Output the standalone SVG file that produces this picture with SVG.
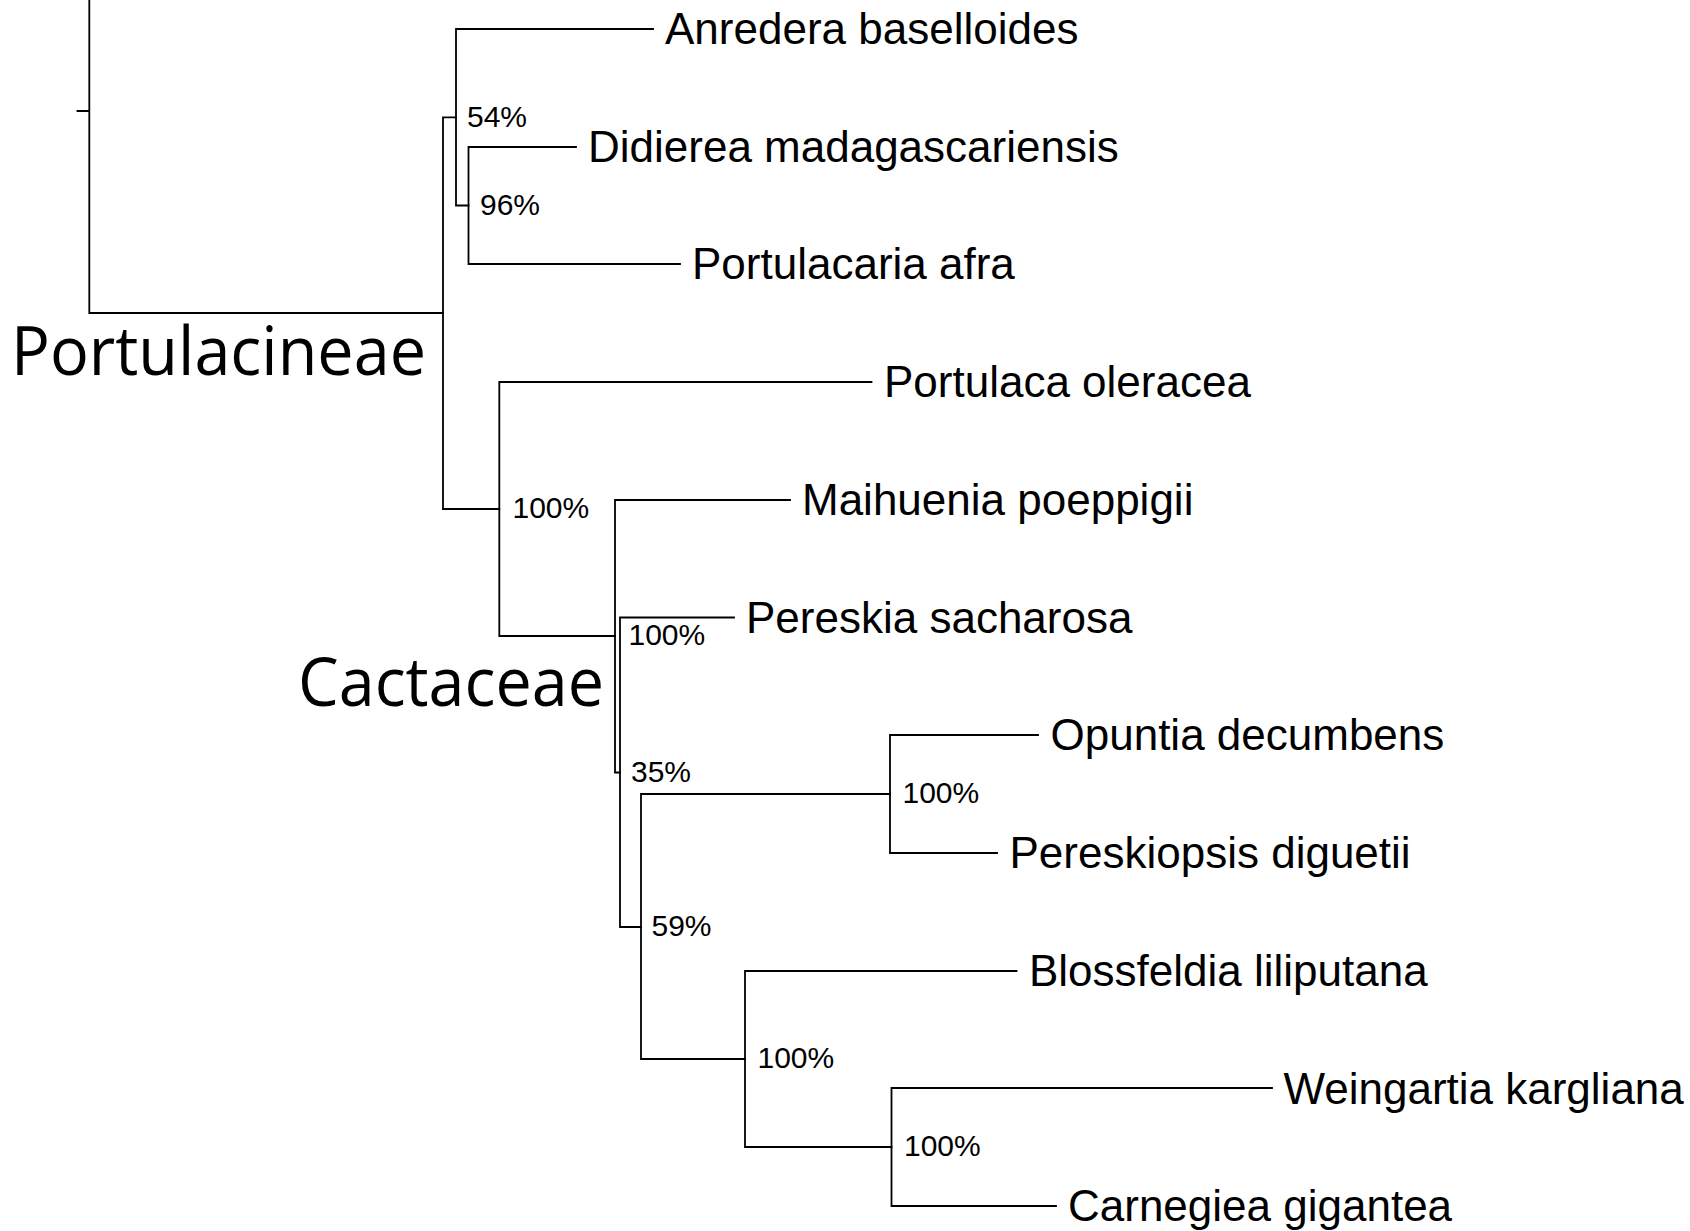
<svg xmlns="http://www.w3.org/2000/svg" width="1690" height="1231" viewBox="0 0 1690 1231">
<style>
.br{fill:none;stroke:#000;stroke-width:1.8;stroke-linecap:square}
.leaf{font-family:"Liberation Sans",Arial,sans-serif;font-size:44px;fill:#000}
.sup{font-family:"Liberation Sans",Arial,sans-serif;font-size:30px;fill:#000}
.clade{font-family:"Open Sans","Noto Sans",sans-serif;font-size:68px;fill:#000}
</style>
<rect width="1690" height="1231" fill="#fff"/>
<g id="connectors">
<path class="br" d="M77.5 111 H89.3 M89.3 0 V313 H443"/>
<path class="br" d="M456 117.3 H443 V509 H499.3"/>
<path class="br" d="M653 29 H456 V205.5 H468.5"/>
<path class="br" d="M576 147 H468.5 V264 H680"/>
<path class="br" d="M871.5 382 H499.3 V636 H615"/>
<path class="br" d="M790 500 H615 V772.5 H620"/>
<path class="br" d="M734 617.5 H620 V927 H641"/>
<path class="br" d="M890 794 H641 V1059 H745"/>
<path class="br" d="M1038 735 H890 V853 H997"/>
<path class="br" d="M1016.5 971 H745 V1147 H891.5"/>
<path class="br" d="M1272 1088 H891.5 V1206 H1056"/>
</g>
<g id="leaf-anredera"><text class="leaf" x="665" y="44">Anredera baselloides</text></g>
<g id="leaf-didierea"><text class="leaf" x="588" y="162">Didierea madagascariensis</text></g>
<g id="leaf-portulacaria"><text class="leaf" x="692" y="279">Portulacaria afra</text></g>
<g id="leaf-portulaca"><text class="leaf" x="884" y="397">Portulaca oleracea</text></g>
<g id="leaf-maihuenia"><text class="leaf" x="802" y="515">Maihuenia poeppigii</text></g>
<g id="leaf-pereskia"><text class="leaf" x="746" y="632.5">Pereskia sacharosa</text></g>
<g id="leaf-opuntia"><text class="leaf" x="1050.5" y="750">Opuntia decumbens</text></g>
<g id="leaf-pereskiopsis"><text class="leaf" x="1009.5" y="868">Pereskiopsis diguetii</text></g>
<g id="leaf-blossfeldia"><text class="leaf" x="1029" y="986">Blossfeldia liliputana</text></g>
<g id="leaf-weingartia"><text class="leaf" x="1283.5" y="1103.5">Weingartia kargliana</text></g>
<g id="leaf-carnegiea"><text class="leaf" x="1068" y="1221">Carnegiea gigantea</text></g>
<g id="node-54"><text class="sup" x="467" y="126.5">54%</text></g>
<g id="node-96"><text class="sup" x="480" y="214.5">96%</text></g>
<g id="node-portulaca"><text class="sup" x="512.5" y="518">100%</text></g>
<g id="node-cactaceae"><text class="sup" x="628.5" y="645">100%</text></g>
<g id="node-35"><text class="sup" x="631" y="782">35%</text></g>
<g id="node-59"><text class="sup" x="651.5" y="936">59%</text></g>
<g id="node-opuntia"><text class="sup" x="902.5" y="803">100%</text></g>
<g id="node-blossfeldia"><text class="sup" x="757.5" y="1068">100%</text></g>
<g id="node-weingartia"><text class="sup" x="904" y="1156">100%</text></g>
<g id="clade-portulacineae"><text class="clade" x="11" y="375" textLength="415" lengthAdjust="spacingAndGlyphs">Portulacineae</text></g>
<g id="clade-cactaceae"><text class="clade" x="298" y="706" textLength="306" lengthAdjust="spacingAndGlyphs">Cactaceae</text></g>
</svg>
